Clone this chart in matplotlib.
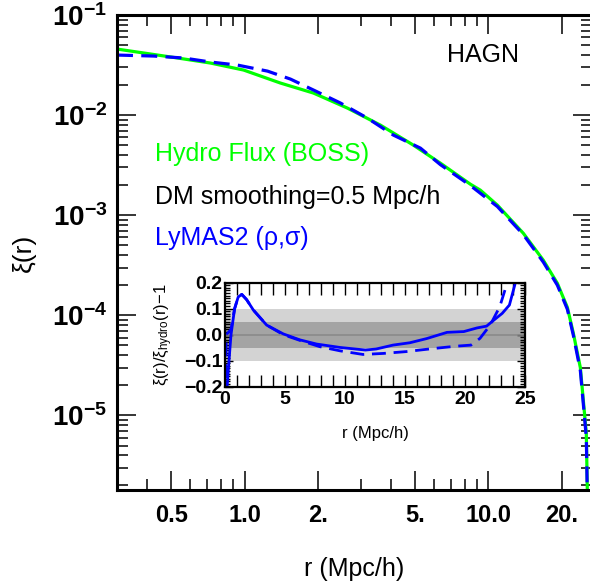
import numpy as np
import matplotlib
matplotlib.use("Agg")
import matplotlib.pyplot as plt
from matplotlib.ticker import FixedLocator, FixedFormatter, MultipleLocator, NullFormatter

plt.rcParams['font.family'] = ['Liberation Sans', 'DejaVu Sans']
plt.rcParams['mathtext.fontset'] = 'custom'
plt.rcParams['mathtext.rm'] = 'Liberation Sans'
plt.rcParams['mathtext.it'] = 'Liberation Sans'
plt.rcParams['mathtext.bf'] = 'Liberation Sans:bold'

# main panel: correlation function xi(r)
r_hydro = [0.30, 0.531, 0.726, 0.991, 1.404, 1.918, 2.643, 3.609, 4.927, 6.357,
           8.438, 9.27, 10.89, 13.91, 16.80, 19.18, 21.08, 22.31, 23.83, 24.51,
           25.21, 25.45, 25.70]
xi_hydro = [0.0457, 0.0372, 0.0331, 0.0282, 0.0209, 0.0166, 0.01175, 0.00794, 0.00501, 0.00331,
            0.00204, 0.00178, 0.00126, 6.6e-4, 3.55e-4, 2.09e-4, 1.20e-4, 6.6e-5, 3.0e-5, 1.41e-5,
            6.6e-6, 1.78e-6, 8.9e-7]

r_lymas = [0.30, 0.424, 0.562, 0.726, 0.936, 1.243, 1.543, 1.918, 2.474, 3.192,
           4.080, 5.264, 6.357, 8.438, 10.89, 13.91, 16.80, 19.18, 21.08, 22.31,
           23.83, 24.51, 25.21, 25.45, 25.70]
xi_lymas = [0.0398, 0.0389, 0.0372, 0.0339, 0.0316, 0.0275, 0.0229, 0.0178, 0.0132, 0.00933,
            0.00631, 0.00468, 0.00320, 0.00198, 0.00122, 6.4e-4, 3.4e-4, 2.0e-4, 1.15e-4, 6.3e-5,
            2.8e-5, 1.3e-5, 6.0e-6, 1.6e-6, 8e-7]

xtick_vals = [0.5, 1.0, 2.0, 5.0, 10.0, 20.0]
xtick_labels = ['0.5', '1.0', '2.', '5.', '10.0', '20.']
ytick_vals = [1e-5, 1e-4, 1e-3, 1e-2, 1e-1]
ytick_labels = [r'$\mathbf{10^{-5}}$', r'$\mathbf{10^{-4}}$', r'$\mathbf{10^{-3}}$',
                r'$\mathbf{10^{-2}}$', r'$\mathbf{10^{-1}}$']

# inset: relative difference xi/xi_hydro - 1
r_ins_a = [0.1, 0.3, 0.5, 0.8, 1.1, 1.4, 1.8, 2.36, 3.47, 4.86, 6.25, 7.64, 9.58, 11.7,
           12.6, 14.0, 15.4, 16.8, 18.5, 19.9, 21.0, 21.8, 22.4, 23.1, 23.7, 24.2, 24.4]
d_ins_a = [-0.25, -0.12, 0.0, 0.10, 0.145, 0.155, 0.135, 0.095, 0.037, 0.003, -0.02, -0.036,
           -0.049, -0.059, -0.055, -0.04, -0.031, -0.015, 0.009, 0.012, 0.026, 0.033, 0.056,
           0.082, 0.114, 0.2, 0.25]
r_ins_b = [0.06, 0.1, 0.5, 0.8, 1.1, 1.4, 1.8, 2.36, 3.47, 4.86, 6.25, 7.9, 9.58, 11.5,
           13.2, 15.1, 17.4, 19.3, 20.5, 21.25, 22.1, 22.9, 23.5, 23.7]
d_ins_b = [-0.25, 0.0, 0.02, 0.10, 0.145, 0.155, 0.135, 0.095, 0.037, 0.0, -0.022, -0.046,
           -0.062, -0.076, -0.072, -0.065, -0.053, -0.044, -0.040, -0.014, 0.037, 0.108,
           0.197, 0.25]

W, H = 590, 585
fig = plt.figure(figsize=(W / 100, H / 100), dpi=100)

def px_rect(x0, x1, ytop, ybot):
    return [x0 / W, (H - ybot) / H, (x1 - x0) / W, (ybot - ytop) / H]

ax = fig.add_axes(px_rect(117, 592, 15, 490))
ax.plot(r_hydro, xi_hydro, color=(0, 1, 0), lw=2.3, solid_capstyle='butt')
ax.plot(r_lymas, xi_lymas, color=(0, 0, 1), lw=2.3, dashes=(5.0, 2.6))
ax.set_xscale('log')
ax.set_yscale('log')
ax.set_xlim(0.3, 26.6)
ax.set_ylim(1.8e-6, 0.1)

ax.xaxis.set_major_locator(FixedLocator(xtick_vals))
ax.xaxis.set_major_formatter(FixedFormatter(xtick_labels))
ax.xaxis.set_minor_locator(FixedLocator([0.4, 0.6, 0.7, 0.8, 0.9, 3, 4, 6, 7, 8, 9]))
ax.xaxis.set_minor_formatter(NullFormatter())
ax.yaxis.set_major_locator(FixedLocator(ytick_vals))
ax.yaxis.set_major_formatter(FixedFormatter(ytick_labels))
ax.yaxis.set_minor_locator(FixedLocator([m * 10.0 ** e for e in range(-6, -1) for m in range(2, 10)]))
ax.yaxis.set_minor_formatter(NullFormatter())

for s in ax.spines.values():
    s.set_linewidth(2.2)
ax.tick_params(which='both', direction='in', top=True, right=True, width=1.1)
ax.tick_params(which='major', length=14)
ax.tick_params(which='minor', length=8)
ax.tick_params(axis='x', which='major', labelsize=17, pad=10)
ax.tick_params(axis='y', which='major', labelsize=20, pad=7)
for lab in ax.get_xticklabels():
    lab.set_fontweight('bold')

ax.set_xlabel('r (Mpc/h)', fontsize=18, labelpad=22)
ax.set_ylabel('ξ(r)', fontsize=19, labelpad=12)

ax.text(0.08, 0.707, 'Hydro Flux (BOSS)', transform=ax.transAxes, color=(0, 1, 0),
        fontsize=18, va='center')
ax.text(0.08, 0.617, 'DM smoothing=0.5 Mpc/h', transform=ax.transAxes, color='black',
        fontsize=18, va='center')
ax.text(0.08, 0.531, 'LyMAS2 (ρ,σ)', transform=ax.transAxes, color=(0, 0, 1),
        fontsize=18, va='center')
ax.text(0.695, 0.916, 'HAGN', transform=ax.transAxes, color='black',
        fontsize=18, va='center')

# inset
ins = fig.add_axes(px_rect(225, 525, 282.7, 386.7))
ins.axhspan(-0.1, 0.1, color='#d3d3d3', lw=0)
ins.axhspan(-0.05, 0.05, color='#a4a4a4', lw=0)
ins.axhline(0.0, color='#8a8a8a', lw=1.2)
ins.plot(r_ins_a, d_ins_a, color=(0, 0, 1), lw=2.0)
ins.plot(r_ins_b, d_ins_b, color=(0, 0, 1), lw=2.0, dashes=(5.0, 2.8))
ins.set_xlim(0, 25)
ins.set_ylim(-0.2, 0.2)
ins.xaxis.set_major_locator(MultipleLocator(5))
ins.xaxis.set_minor_locator(MultipleLocator(1))
ins.yaxis.set_major_locator(MultipleLocator(0.1))
ins.yaxis.set_minor_locator(MultipleLocator(0.01))
ins.yaxis.set_major_formatter(plt.FuncFormatter(lambda v, p: ('%.1f' % v).replace('-', '\u2212')))
for s in ins.spines.values():
    s.set_linewidth(1.6)
ins.tick_params(which='both', direction='in', top=True, right=True, width=1.0)
ins.tick_params(axis='x', which='both', length=8.5)
ins.tick_params(axis='y', which='major', length=6)
ins.tick_params(axis='y', which='minor', length=3.5)
ins.tick_params(axis='x', which='major', labelsize=14, pad=3)
ins.tick_params(axis='y', which='major', labelsize=14, pad=2)
for lab in ins.get_xticklabels() + ins.get_yticklabels():
    lab.set_fontweight('bold')
ins.set_xlabel('r (Mpc/h)', fontsize=12, labelpad=13)
ins.set_ylabel(r'$\xi(\mathrm{r})/\xi_{\mathrm{hydro}}(\mathrm{r})\!-\!1$', fontsize=12, labelpad=6)

fig.savefig('out.png', dpi=100)
